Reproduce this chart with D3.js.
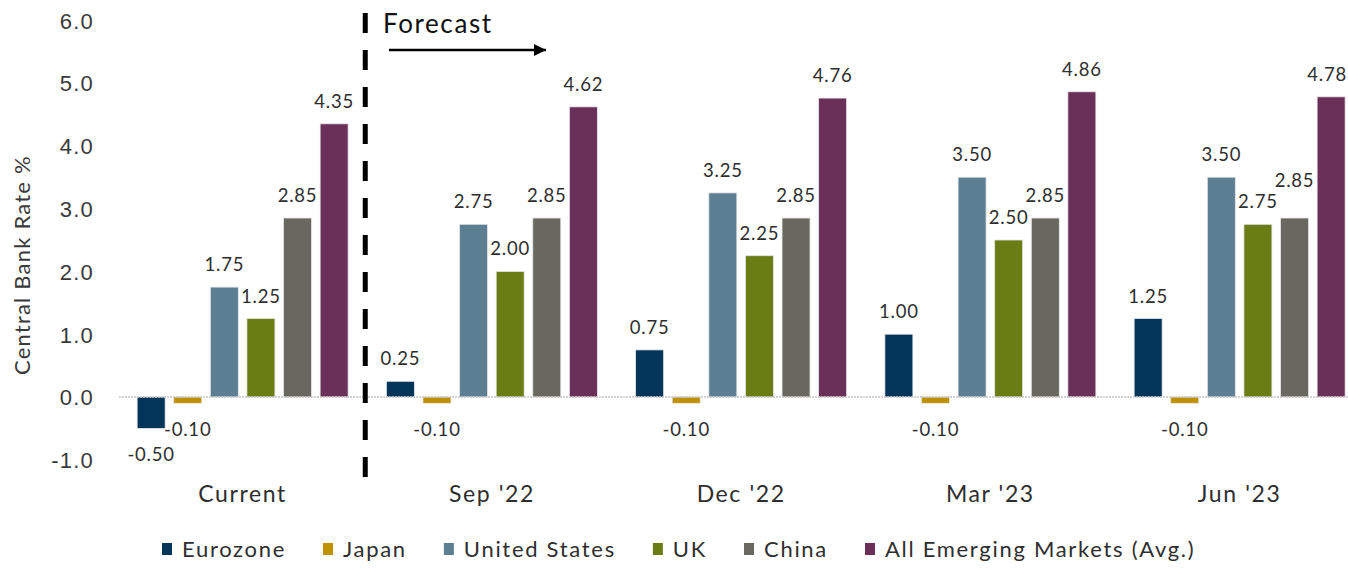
<!DOCTYPE html>
<html>
<head>
<meta charset="utf-8">
<script src="https://cdn.jsdelivr.net/npm/d3@7"></script>
<style>
  html, body { margin: 0; padding: 0; background: #fff; }
  svg { display: block; font-family: "Lato", "Open Sans", sans-serif; }
</style>
</head>
<body>
<svg id="chart" width="1348" height="568"></svg>
<script>
// Periods on the x axis
const periods = ["Current", "Sep '22", "Dec '22", "Mar '23", "Jun '23"];

// Economies (one bar per economy in every period)
const economies = ["Eurozone", "Japan", "United States", "UK", "China", "All Emerging Markets (Avg.)"];
const colors = ["#03345a", "#bf9000", "#5c7f93", "#6a7c14", "#686860", "#6b3059"];

// Central bank rate, % — one array per economy, in period order
const eurozone = [-0.50, 0.25, 0.75, 1.00, 1.25];
const japan    = [-0.10, -0.10, -0.10, -0.10, -0.10];
const us       = [1.75, 2.75, 3.25, 3.50, 3.50];
const uk       = [1.25, 2.00, 2.25, 2.50, 2.75];
const china    = [2.85, 2.85, 2.85, 2.85, 2.85];
const emAvg    = [4.35, 4.62, 4.76, 4.86, 4.78];
const seriesValues = [eurozone, japan, us, uk, china, emAvg];

// Y axis ticks
const yTicks = [-1, 0, 1, 2, 3, 4, 5, 6];

// Plain hyphen for negatives
const fmt = (spec) => {
  const f = d3.format(spec);
  return v => f(v).replace("\u2212", "-");
};
const fmtTick = fmt(".1f");
const fmtValue = fmt(".2f");

const W = 1348;
const svg = d3.select("#chart");

const y = d3.scaleLinear().domain([-1, 6]).range([459.8, 20.2]);

const x0 = d3.scaleBand()
  .domain(periods)
  .range([118, 1364.25])
  .paddingInner(0.1535)
  .paddingOuter(0.07675);

const x1 = d3.scaleBand()
  .domain(economies)
  .range([0, x0.bandwidth()])
  .paddingInner(0.235)
  .paddingOuter(0);

const color = d3.scaleOrdinal().domain(economies).range(colors);

// Flatten into one record per bar
const rows = [];
periods.forEach((p, i) => {
  economies.forEach((e, j) => {
    rows.push({ period: p, economy: e, value: seriesValues[j][i] });
  });
});

// Y axis labels
const yAxis = d3.axisLeft(y).tickValues(yTicks).tickFormat(fmtTick).tickSize(0).tickPadding(0);
const yg = svg.append("g").attr("transform", "translate(94,0)").call(yAxis);
yg.select(".domain").remove();
yg.selectAll("text")
  .attr("fill", "#3a3a3a")
  .style("font-size", "22px")
  .style("letter-spacing", "1.2px")
  .attr("dy", "0.36em");

// Axis title
svg.append("text")
  .attr("transform", "translate(30," + y(2.1) + ") rotate(-90)")
  .attr("text-anchor", "middle")
  .attr("fill", "#3a3a3a")
  .style("font-size", "22px")
  .style("letter-spacing", "1.2px")
  .text("Central Bank Rate %");

// Bars
const bars = svg.append("g");
bars.selectAll("rect")
  .data(rows)
  .join("rect")
  .attr("x", d => x0(d.period) + x1(d.economy))
  .attr("width", x1.bandwidth())
  .attr("y", d => y(Math.max(0, d.value)))
  .attr("height", d => Math.abs(y(d.value) - y(0)))
  .attr("fill", d => color(d.economy))
  .attr("stroke", "#e6e6e6")
  .attr("stroke-width", 0.8);

// Zero line
svg.append("line")
  .attr("x1", 119).attr("x2", W)
  .attr("y1", y(0)).attr("y2", y(0))
  .attr("stroke", "#c4c4c4")
  .attr("stroke-width", 1.5)
  .attr("stroke-dasharray", "2,1");

// Value labels
const labels = svg.append("g").selectAll("text")
  .data(rows)
  .join("text")
  .attr("x", d => x0(d.period) + x1(d.economy) + x1.bandwidth() / 2)
  .attr("y", d => d.value >= 0 ? y(d.value) - 16 : y(d.value) + 33)
  .attr("text-anchor", "middle")
  .attr("fill", "#2e2e2e")
  .style("font-size", "18.5px")
  .style("letter-spacing", "0.8px")
  .text(d => fmtValue(d.value));

// Keep labels inside the frame and lift any that collide with a neighbour
const placed = [];
labels.each(function () {
  const t = d3.select(this);
  let b = this.getBBox();
  if (b.x + b.width > W - 1) {
    t.attr("x", +t.attr("x") - (b.x + b.width - (W - 1)));
    b = this.getBBox();
  }
  let yy = +t.attr("y");
  let moved = true;
  while (moved) {
    moved = false;
    for (const p of placed) {
      const hOverlap = b.x < p.x + p.width && p.x < b.x + b.width;
      const vOverlap = Math.abs(yy - p.base) < 18;
      if (hOverlap && vOverlap) {
        yy = p.base - 21;
        moved = true;
      }
    }
  }
  t.attr("y", yy);
  placed.push({ x: b.x, width: b.width, base: yy });
});

// Category labels
svg.append("g").selectAll("text")
  .data(periods)
  .join("text")
  .attr("x", d => x0(d) + x0.bandwidth() / 2)
  .attr("y", 502)
  .attr("text-anchor", "middle")
  .attr("fill", "#2e2e2e")
  .style("font-size", "23px")
  .style("letter-spacing", "1.6px")
  .text(d => d);

// Forecast divider
const divX = (x0("Current") + x0.bandwidth() + x0("Sep '22")) / 2 - 2;
svg.append("line")
  .attr("x1", divX).attr("x2", divX)
  .attr("y1", 13).attr("y2", 489)
  .attr("stroke", "#000")
  .attr("stroke-width", 5)
  .attr("stroke-dasharray", "20,17");

svg.append("text")
  .attr("x", 383).attr("y", 33)
  .attr("fill", "#111")
  .style("font-size", "26px")
  .style("letter-spacing", "1.6px")
  .text("Forecast");

svg.append("defs").append("marker")
  .attr("id", "arrowhead")
  .attr("viewBox", "0 0 10 10")
  .attr("refX", 10).attr("refY", 5)
  .attr("markerWidth", 5).attr("markerHeight", 5)
  .attr("markerUnits", "strokeWidth")
  .attr("orient", "auto")
  .append("path")
  .attr("d", "M0,0 L10,5 L0,10 Z")
  .attr("fill", "#000");

svg.append("line")
  .attr("x1", 389).attr("x2", 546)
  .attr("y1", 50).attr("y2", 50)
  .attr("stroke", "#000")
  .attr("stroke-width", 2.4)
  .attr("marker-end", "url(#arrowhead)");

// Legend
const legend = svg.append("g").attr("transform", "translate(0,549)");
let lx = 162;
economies.forEach((e, i) => {
  const g = legend.append("g").attr("transform", "translate(" + lx + ",0)");
  g.append("rect")
    .attr("x", 0).attr("y", -6)
    .attr("width", 10).attr("height", 12)
    .attr("fill", color(e));
  const t = g.append("text")
    .attr("x", 20).attr("y", 0).attr("dy", "0.35em")
    .attr("fill", "#2e2e2e")
    .style("font-size", "22px")
    .style("letter-spacing", "1.7px")
    .text(e);
  lx += 20 + t.node().getComputedTextLength() + 37;
});
</script>
</body>
</html>
